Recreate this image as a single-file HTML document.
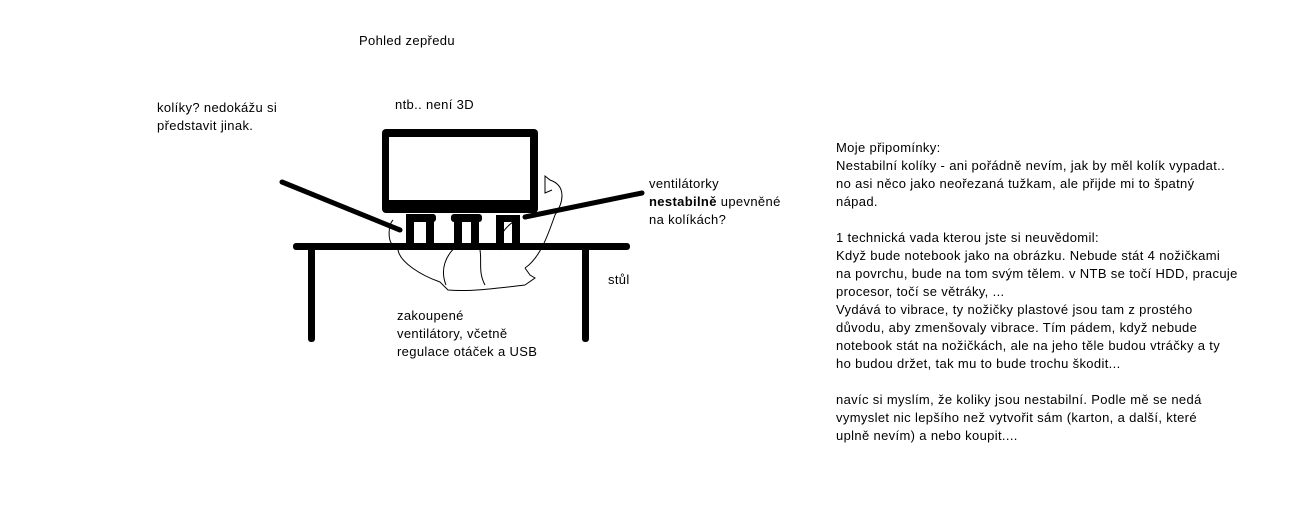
<!DOCTYPE html>
<html><head><meta charset="utf-8"><style>
body{margin:0;width:1292px;height:527px;background:#fff;position:relative;overflow:hidden;font-family:"Liberation Sans",sans-serif;font-size:13px;color:#000}
.t{position:absolute;line-height:18px;white-space:nowrap;letter-spacing:0.35px}
svg{position:absolute;left:0;top:0}
</style></head><body>
<svg width="1292" height="527">
<g fill="#000">
<rect x="382" y="129" width="156" height="84" rx="4"/>
</g>
<rect x="389" y="137" width="141" height="63" fill="#fff"/>
<g fill="#000">
<rect x="293" y="243" width="337" height="7" rx="3"/>
<rect x="308" y="247" width="7" height="95" rx="3"/>
<rect x="582" y="247" width="7" height="95" rx="3"/>
<rect x="406" y="214" width="30" height="8" rx="3"/>
<rect x="406" y="214" width="8" height="31"/>
<rect x="426" y="214" width="8" height="31"/>
<rect x="451" y="214" width="31" height="8" rx="3"/>
<rect x="454" y="214" width="8" height="31"/>
<rect x="471" y="214" width="8" height="31"/>
<rect x="496" y="215" width="24" height="7"/>
<rect x="496" y="215" width="8" height="30"/>
<rect x="512" y="215" width="8" height="30"/>
</g>
<g stroke="#000" stroke-width="5" stroke-linecap="round">
<line x1="282" y1="182" x2="400" y2="230"/>
<line x1="525" y1="217" x2="642" y2="193"/>
</g>
<path d="M393 220 C388 225,388 240,392 244 M398 250 C400 262,420 275,440 282 L448 290 C470 292,500 288,525 285 M525 268 L530 275 L535 278 L525 285 M446 285 C440 270,445 255,458 245 M480 250 C482 262,478 272,485 285 M525 268 C540 258,548 235,555 215 C565 200,565 185,550 180 L545 176 L545 193 L552 190 M500 250 C495 240,505 225,520 218" fill="none" stroke="#000" stroke-width="1"/>
</svg>
<div class="t" style="left:359px;top:32px">Pohled zepředu</div>
<div class="t" style="left:395px;top:96px">ntb.. není 3D</div>
<div class="t" style="left:157px;top:99px">kolíky? nedokážu si<br>představit jinak.</div>
<div class="t" style="left:649px;top:175px">ventilátorky<br><b>nestabilně</b> upevněné<br>na kolíkách?</div>
<div class="t" style="left:608px;top:271px">stůl</div>
<div class="t" style="left:397px;top:307px">zakoupené<br>ventilátory, včetně<br>regulace otáček a USB</div>
<div class="t" style="left:836px;top:139px">Moje připomínky:<br>Nestabilní kolíky - ani pořádně nevím, jak by měl kolík vypadat..<br>no asi něco jako neořezaná tužkam, ale přijde mi to špatný<br>nápad.<br><br>1 technická vada kterou jste si neuvědomil:<br>Když bude notebook jako na obrázku. Nebude stát 4 nožičkami<br>na povrchu, bude na tom svým tělem. v NTB se točí HDD, pracuje<br>procesor, točí se větráky, ...<br>Vydává to vibrace, ty nožičky plastové jsou tam z prostého<br>důvodu, aby zmenšovaly vibrace. Tím pádem, když nebude<br>notebook stát na nožičkách, ale na jeho těle budou vtráčky a ty<br>ho budou držet, tak mu to bude trochu škodit...<br><br>navíc si myslím, že koliky jsou nestabilní. Podle mě se nedá<br>vymyslet nic lepšího než vytvořit sám (karton, a další, které<br>uplně nevím) a nebo koupit....</div>
</body></html>
